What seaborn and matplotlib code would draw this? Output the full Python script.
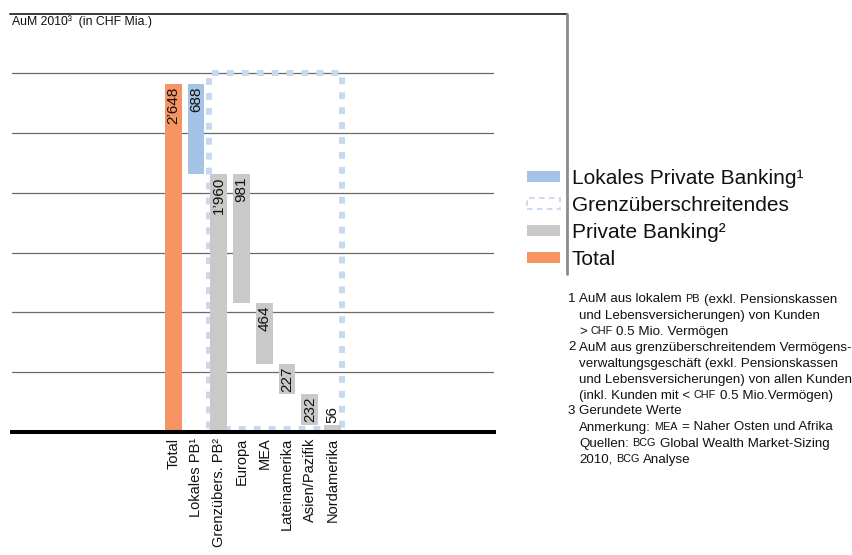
import numpy as np
import pandas as pd
import matplotlib
matplotlib.use("Agg")
import matplotlib.pyplot as plt
from matplotlib.patches import Patch, Rectangle
from matplotlib.lines import Line2D
import seaborn as sns

# ---- data -------------------------------------------------------------
categories = ["Total", "Lokales PB¹", "Grenzübers. PB²", "Europa", "MEA",
              "Lateinamerika", "Asien/Pazifik", "Nordamerika"]
aum = [2648, 688, 1960, 981, 464, 227, 232, 56]
value_labels = ["2’648", "688", "1’960", "981", "464", "227", "232", "56"]
segments = ["total", "lokal", "grenz", "grenz", "grenz", "grenz", "grenz", "grenz"]
grid_levels = [455, 910, 1365, 1820, 2275, 2730]

legend_labels = ["Lokales Private Banking¹", "Grenzüberschreitendes",
                 "Private Banking²", "Total"]

footnotes = [
    ("1", [("AuM aus lokalem ", 0), ("PB", 1), (" (exkl. Pensionskassen", 0)]),
    ("", [("und Lebensversicherungen) von Kunden", 0)]),
    ("", [("> ", 0), ("CHF", 1), (" 0.5 Mio. Vermögen", 0)]),
    ("2", [("AuM aus grenzüberschreitendem Vermögens-", 0)]),
    ("", [("verwaltungsgeschäft (exkl. Pensionskassen", 0)]),
    ("", [("und Lebensversicherungen) von allen Kunden", 0)]),
    ("", [("(inkl. Kunden mit < ", 0), ("CHF", 1), (" 0.5 Mio.Vermögen)", 0)]),
    ("3", [("Gerundete Werte", 0)]),
    ("", [("Anmerkung: ", 0), ("MEA", 1), (" = Naher Osten und Afrika", 0)]),
    ("", [("Quellen: ", 0), ("BCG", 1), (" Global Wealth Market-Sizing", 0)]),
    ("", [("2010, ", 0), ("BCG", 1), (" Analyse", 0)]),
]

# ---- styling ----------------------------------------------------------
colors = {"total": "#f79464", "lokal": "#a5c3e6", "grenz": "#c9c9c9"}
dot_blue = "#c6d9f0"

sns.set_theme(style="white")
plt.rcParams["font.family"] = ["Liberation Sans", "DejaVu Sans"]
plt.rcParams["text.color"] = "#111111"

W, H = 852, 555
fig = plt.figure(figsize=(W / 100, H / 100), dpi=100)
fig.patch.set_facecolor("white")


def fx(px):
    return px / W


def fy(py):
    return 1 - py / H


ax = fig.add_axes([fx(12), fy(432), (494 - 12) / W, (432 - 14) / H])
ax.set_facecolor("white")

# waterfall bases: Total and Grenzübers. start at zero, the local part sits
# on top of the cross-border part, regions step down from the cross-border total
bases = []
for cat, seg, v in zip(categories, segments, aum):
    if seg == "total":
        bases.append(0)
        total_val = v
    elif seg == "lokal":
        bases.append(total_val - v)
    elif cat.startswith("Grenz"):
        bases.append(0)
        running = v
    else:
        running -= v
        bases.append(running)

df = pd.DataFrame({"Kategorie": categories, "AuM": aum, "Basis": bases,
                   "Segment": segments})

sns.barplot(data=df, x="Kategorie", y="AuM", order=categories,
            bottom=df["Basis"].to_numpy(), width=0.73, color=colors["grenz"],
            saturation=1, errorbar=None, linewidth=0, ax=ax, zorder=1)

for bar, seg in zip(ax.containers[0], df["Segment"]):
    bar.set_facecolor(colors[seg])
    bar.set_edgecolor("none")

# dotted frame around the cross-border block
rect_left, rect_right = 1.55, 7.40
ax.add_patch(Rectangle((rect_left, 20), rect_right - rect_left, grid_levels[-1] - 20,
                       fill=False, edgecolor=dot_blue, linewidth=4.3,
                       linestyle=(0, (1.15, 1.35)), zorder=0.9))

# value labels
for i, (lab, v, b) in enumerate(zip(value_labels, aum, bases)):
    top = v + b
    if v > 100:
        ax.annotate(lab, xy=(i, top), xytext=(0, -1.8), textcoords="offset points",
                    rotation=90, ha="center", va="top", fontsize=11, color="#111111",
                    zorder=3)
    else:
        ax.annotate(lab, xy=(i, top), xytext=(0, 1.2), textcoords="offset points",
                    rotation=90, ha="center", va="bottom", fontsize=11, color="#111111",
                    zorder=3)

# axes layout
ax.set_xlim(-7.09, 14.10)
ax.set_ylim(0, 3180.6)
ax.set_yticks(grid_levels)
ax.yaxis.grid(True, color="#6a6a6a", linewidth=0.9)
ax.xaxis.grid(False)
ax.set_axisbelow(True)
ax.tick_params(axis="y", length=0, labelleft=False)
ax.set_xticks(range(len(categories)))
ax.set_xticklabels(categories, rotation=90, ha="center", va="top", fontsize=10.5,
                   color="#111111")
ax.tick_params(axis="x", length=0, pad=4)
ax.set_xlabel("")
ax.set_ylabel("")
for side in ["left", "right", "top"]:
    ax.spines[side].set_visible(False)
ax.spines["bottom"].set_color("black")
ax.spines["bottom"].set_linewidth(2.9)

# outer frame lines
fig.add_artist(Line2D([fx(10), fx(567)], [fy(14), fy(14)], color="#3a3a3a", lw=1.4))
fig.add_artist(Line2D([fx(566.5), fx(566.5)], [fy(14), fy(274)], color="#8c8c8c", lw=2))

fig.text(fx(12), fy(22), "AuM 2010³  (in CHF Mia.)", fontsize=8.8, va="center",
         ha="left", color="#111111")

# legend
handles = [
    Patch(facecolor=colors["lokal"], edgecolor="none"),
    Patch(facecolor="white", edgecolor=dot_blue, linestyle=(0, (3, 2.5)), linewidth=1.3),
    Patch(facecolor=colors["grenz"], edgecolor="none"),
    Patch(facecolor=colors["total"], edgecolor="none"),
]
fig.legend(handles, legend_labels, loc="upper left", bbox_to_anchor=(fx(527), fy(169)),
           frameon=False, fontsize=15, handlelength=1.6, handleheight=0.4,
           handletextpad=0.55, labelspacing=0.38, borderpad=0, borderaxespad=0)

# footnotes with small capitals for abbreviations
renderer = fig.canvas.get_renderer()
big, small = 9.6, 7.8


def advance_space(size):
    return 0.278 * size * 100 / 72


for k, (num, runs) in enumerate(footnotes):
    base_y = 302.5 + 16 * k
    if num:
        fig.text(fx(568), fy(base_y), num, fontsize=big, va="baseline", ha="left")
    x = 579.0
    for txt, is_small in runs:
        size = small if is_small else big
        lead = len(txt) - len(txt.lstrip(" "))
        trail = len(txt) - len(txt.rstrip(" "))
        core = txt.strip(" ")
        x += lead * advance_space(big)
        t = fig.text(fx(x), fy(base_y), core, fontsize=size, va="baseline", ha="left")
        x += t.get_window_extent(renderer).width
        x += trail * advance_space(big)

fig.savefig("out.png", dpi=100, facecolor="white")
